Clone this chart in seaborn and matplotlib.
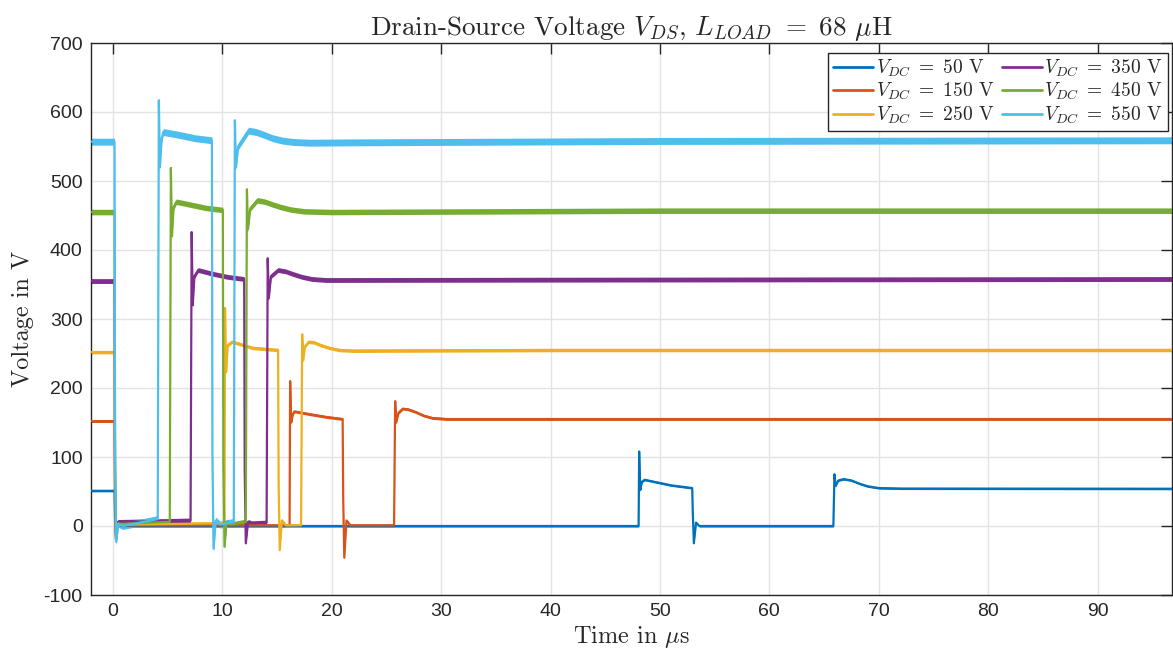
import numpy as np
import pandas as pd
import matplotlib
matplotlib.use("Agg")
import matplotlib.pyplot as plt
import seaborn as sns

# ---------------- data ----------------
labels = ["$V_{DC}\\ =\\ 50$ V", "$V_{DC}\\ =\\ 150$ V", "$V_{DC}\\ =\\ 250$ V",
          "$V_{DC}\\ =\\ 350$ V", "$V_{DC}\\ =\\ 450$ V", "$V_{DC}\\ =\\ 550$ V"]

t_50 = [-2.5, 0.15, 0.2, 0.28, 0.45, 0.8, 48.05, 48.1, 48.2, 48.35, 48.6, 49.5, 51.0, 52.95, 53.0, 53.1, 53.3, 53.6,
        65.85, 65.95, 66.05, 66.3, 66.8, 67.5, 68.3, 69.0, 70.0, 72.0, 98.0]
v_50 = [51, 51, 10, -12, 3, 0, 0, 108, 52, 64, 67, 64, 59, 55, 20, -25, 5, 0,
        0, 75, 58, 66, 68, 66, 61, 57.5, 55, 54.3, 54]

t_150 = [-2.5, 0.15, 0.2, 0.28, 0.45, 0.8, 16.15, 16.2, 16.3, 16.45, 16.6, 18.0, 19.5, 21.0, 21.05, 21.15, 21.35, 21.7,
         25.7, 25.8, 25.9, 26.1, 26.5, 27.0, 27.7, 28.4, 29.2, 30.5, 40.0, 98.0]
v_150 = [152, 152, 30, -15, 3, 1, 1, 210, 150, 162, 166, 162, 158, 155, 40, -46, 8, 1,
         1, 181, 150, 164, 170, 169, 165, 160, 156.5, 155, 155, 155]

t_250 = [-2.5, 0.15, 0.2, 0.28, 0.45, 0.8, 10.2, 10.25, 10.35, 10.5, 10.9, 12.8, 15.1, 15.15, 15.25, 15.45, 15.8,
         17.2, 17.3, 17.4, 17.55, 17.9, 18.4, 19.0, 19.8, 20.7, 22.0, 40.0, 98.0]
v_250 = [252, 252, 40, -15, 3, 2, 4, 316, 223, 262, 267, 258, 255, 60, -35, 8, 1,
         1, 278, 240, 260, 267, 266, 262, 258, 255, 254, 255, 255]

t_350 = [-2.5, 0.15, 0.2, 0.28, 0.45, 0.8, 7.1, 7.2, 7.3, 7.45, 7.8, 9.0, 10.5, 12.0, 12.05, 12.15, 12.35, 12.7,
         14.05, 14.15, 14.25, 14.45, 15.1, 15.8, 16.5, 17.3, 18.2, 19.5, 40.0, 98.0]
v_350 = [355, 355, 60, -18, 6, 6, 8, 426, 320, 362, 371, 366, 361, 358, 80, -25, 6, 4,
         5, 388, 330, 362, 371, 369, 365, 361, 358, 356.5, 357, 358]

t_450 = [-2.5, 0.15, 0.2, 0.28, 0.45, 0.8, 5.2, 5.3, 5.4, 5.55, 5.8, 7.0, 8.5, 10.05, 10.1, 10.2, 10.4, 10.8,
         12.15, 12.25, 12.35, 12.55, 13.2, 13.9, 14.6, 15.4, 16.3, 17.5, 20.0, 50.0, 98.0]
v_450 = [455, 455, 80, -20, 4, 3, 6, 519, 420, 462, 470, 466, 461, 458, 90, -30, 6, 2,
         6, 488, 430, 460, 472, 470, 466, 462, 458.5, 456, 455, 457, 457]

t_550 = [-2.5, 0.15, 0.2, 0.3, 0.5, 0.9, 4.1, 4.2, 4.3, 4.45, 4.6, 6.0, 7.5, 9.05, 9.1, 9.2, 9.4, 9.8,
         11.05, 11.15, 11.25, 11.45, 12.4, 13.1, 13.8, 14.6, 15.5, 16.5, 18.0, 22.0, 50.0, 98.0]
v_550 = [557, 557, 100, -23, 3, 0, 10, 617, 520, 560, 571, 567, 562, 559, 100, -33, 8, 2,
         6, 588, 520, 550, 573, 571, 567, 562, 558.5, 556.5, 555.5, 556, 558, 559]

x_ticks = [0, 10, 20, 30, 40, 50, 60, 70, 80, 90]
y_ticks = [-100, 0, 100, 200, 300, 400, 500, 600, 700]

# ---------------- style ----------------
colors = ["#0072BD", "#D95319", "#EDB120", "#7E2F8E", "#77AC30", "#4DBEEE"]
noise_half = [1.5, 2.0, 2.5, 3.5, 4.0, 5.0]   # visual thickness of the noisy traces

sns.set_style("white")
plt.rcParams["font.family"] = ["Liberation Sans", "DejaVu Sans"]
plt.rcParams["mathtext.fontset"] = "cm"
plt.rcParams["axes.unicode_minus"] = False

fig = plt.figure(figsize=(11.73, 6.58), dpi=100)
ax = fig.add_axes([91 / 1173, 1 - 595 / 658, (1172 - 91) / 1173, (595 - 43) / 658])

series = [(t_50, v_50), (t_150, v_150), (t_250, v_250),
          (t_350, v_350), (t_450, v_450), (t_550, v_550)]

for (t, v), lab, c, a in zip(series, labels, colors, noise_half):
    df = pd.DataFrame({"t": t, "v": v})
    ax.fill_between(df["t"], df["v"] - a, df["v"] + a, color=c, lw=0, zorder=2)
    sns.lineplot(data=df, x="t", y="v", ax=ax, color=c, lw=1.6, label=lab,
                 sort=False, estimator=None, zorder=3)

ax.set_xlim(-2, 96.8)
ax.set_ylim(-100, 700)
ax.set_xticks(x_ticks)
ax.set_yticks(y_ticks)
ax.grid(True, color="#e3e3e3", lw=1.0, zorder=0)
ax.set_axisbelow(True)
ax.tick_params(direction="in", length=8, width=1, colors="#262626",
               top=True, right=True, labelsize=14, pad=6)
for s in ax.spines.values():
    s.set_color("#262626")
    s.set_linewidth(1)

ax.set_xlabel("Time in $\\mu$s", fontfamily="cmr10", fontsize=17.5, labelpad=3)
ax.set_ylabel("Voltage in V", fontfamily="cmr10", fontsize=17.5, labelpad=7)
ax.set_title("Drain-Source Voltage $V_{DS}$, $L_{LOAD}\\ =\\ 68$ $\\mu$H",
             fontfamily="cmr10", fontsize=19.5, pad=6)

leg = ax.legend(loc="upper right", bbox_to_anchor=(0.9963, 0.9819), borderaxespad=0,
                ncol=2, frameon=True, fancybox=False, framealpha=1,
                edgecolor="#262626", prop={"family": "cmr10", "size": 14},
                handlelength=2.05, handletextpad=0.15, columnspacing=0.35,
                labelspacing=0.1, borderpad=0.25)
leg.get_frame().set_linewidth(1)
for line in leg.get_lines():
    line.set_linewidth(2)

fig.savefig("out.png", dpi=100)
